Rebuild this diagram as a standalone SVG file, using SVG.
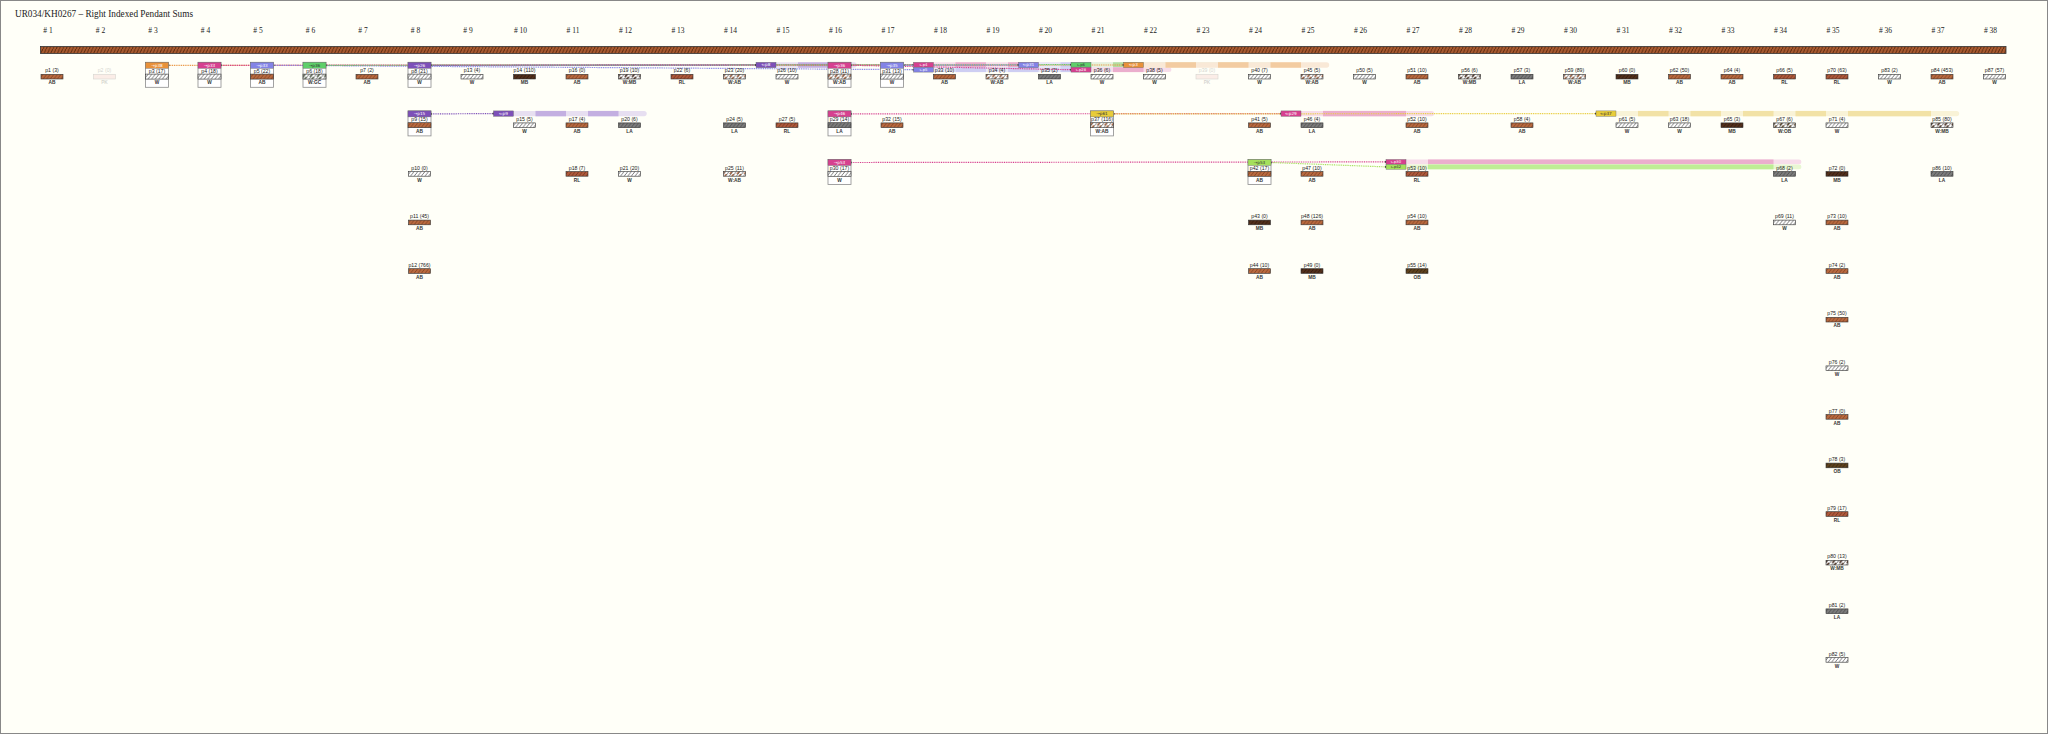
<svg xmlns="http://www.w3.org/2000/svg" width="2048" height="734" viewBox="0 0 2048 734">
<style>
.ti{font-family:"Liberation Serif",serif;font-size:10.5px;fill:#222}
.cl{font-family:"Liberation Serif",serif;font-size:7.5px;fill:#222;text-anchor:middle}
.lb{font-family:"Liberation Sans",sans-serif;font-size:5.2px;fill:#222;text-anchor:middle}
.cc{font-family:"Liberation Sans",sans-serif;font-size:4.8px;font-weight:bold;fill:#333;text-anchor:middle}
.bar{stroke:#333;stroke-width:0.6}
.box{fill:#fff;stroke:#8c8c8c;stroke-width:0.8}
.hd{stroke:#666;stroke-width:0.4}
.ht{font-family:"DejaVu Sans",sans-serif;font-size:4.2px;fill:#fff;text-anchor:middle}
.ht.dk{fill:#333}
.ts{font-size:3.8px}
.cn path{fill:none;stroke-width:1.2;stroke-dasharray:1 0.8}
.bd{opacity:0.85}
.faded{opacity:0.2}
</style>
<defs>
<pattern id="pCord" width="3.3" height="7" patternUnits="userSpaceOnUse"><rect width="3.3" height="7" fill="#a85a30"/><path d="M0,7L3.3,0" stroke="#5a2a10" stroke-width="0.9"/></pattern>
<pattern id="pAB" width="3.6" height="4.8" patternUnits="userSpaceOnUse"><rect width="3.6" height="4.8" fill="#b86a40"/><path d="M0,4.8L3.6,0" stroke="#7a3a1c" stroke-width="0.8"/></pattern>
<pattern id="pRL" width="3.6" height="4.8" patternUnits="userSpaceOnUse"><rect width="3.6" height="4.8" fill="#ae5a3c"/><path d="M0,4.8L3.6,0" stroke="#6e2c18" stroke-width="0.8"/></pattern>
<pattern id="pMB" width="3.6" height="4.8" patternUnits="userSpaceOnUse"><rect width="3.6" height="4.8" fill="#52301c"/><path d="M0,4.8L3.6,0" stroke="#2b140a" stroke-width="0.8"/></pattern>
<pattern id="pOB" width="3.6" height="4.8" patternUnits="userSpaceOnUse"><rect width="3.6" height="4.8" fill="#5e421e"/><path d="M0,4.8L3.6,0" stroke="#2e1e0c" stroke-width="0.8"/></pattern>
<pattern id="pLA" width="3.6" height="4.8" patternUnits="userSpaceOnUse"><rect width="3.6" height="4.8" fill="#7c7c7c"/><path d="M0,4.8L3.6,0" stroke="#464646" stroke-width="0.8"/></pattern>
<pattern id="pW" width="3.6" height="4.8" patternUnits="userSpaceOnUse"><rect width="3.6" height="4.8" fill="#fff"/><path d="M0,4.8L3.6,0" stroke="#333" stroke-width="0.7"/></pattern>
<pattern id="pPK" width="3.6" height="4.8" patternUnits="userSpaceOnUse"><rect width="3.6" height="4.8" fill="#f0a8a8"/></pattern>
<pattern id="pWAB" width="7.2" height="4.8" patternUnits="userSpaceOnUse"><rect width="7.2" height="4.8" fill="#fff"/><polygon points="1.8,4.8 5.4,0 7.2,0 3.6,4.8" fill="#b86a40"/><path d="M0,4.8L3.6,0M3.6,4.8L7.2,0" stroke="#333" stroke-width="0.7"/></pattern>
<pattern id="pWMB" width="7.2" height="4.8" patternUnits="userSpaceOnUse"><rect width="7.2" height="4.8" fill="#fff"/><polygon points="1.8,4.8 5.4,0 7.2,0 3.6,4.8" fill="#52301c"/><path d="M0,4.8L3.6,0M3.6,4.8L7.2,0" stroke="#333" stroke-width="0.7"/></pattern>
<pattern id="pWOB" width="7.2" height="4.8" patternUnits="userSpaceOnUse"><rect width="7.2" height="4.8" fill="#fff"/><polygon points="1.8,4.8 5.4,0 7.2,0 3.6,4.8" fill="#5e421e"/><path d="M0,4.8L3.6,0M3.6,4.8L7.2,0" stroke="#333" stroke-width="0.7"/></pattern>
<pattern id="pWGC" width="7.2" height="4.8" patternUnits="userSpaceOnUse"><rect width="7.2" height="4.8" fill="#fff"/><polygon points="1.8,4.8 5.4,0 7.2,0 3.6,4.8" fill="#6c7a60"/><path d="M0,4.8L3.6,0M3.6,4.8L7.2,0" stroke="#333" stroke-width="0.7"/></pattern>
<marker id="dot" viewBox="-2 -2 4 4" markerWidth="3" markerHeight="3" markerUnits="userSpaceOnUse"><circle r="1.4" fill="#333"/></marker>
</defs>
<rect x="0.5" y="0.5" width="2047" height="733" fill="#fffff8" stroke="#888"/>
<text class="ti" x="15" y="17" textLength="178" lengthAdjust="spacingAndGlyphs">UR034/KH0267 – Right Indexed Pendant Sums</text>
<g id="columns">
<text class="cl" x="48" y="33"># 1</text><text class="cl" x="100.5" y="33"># 2</text><text class="cl" x="153" y="33"># 3</text><text class="cl" x="205.5" y="33"># 4</text><text class="cl" x="258" y="33"># 5</text><text class="cl" x="310.5" y="33"># 6</text><text class="cl" x="363" y="33"># 7</text><text class="cl" x="415.5" y="33"># 8</text><text class="cl" x="468" y="33"># 9</text><text class="cl" x="520.5" y="33"># 10</text><text class="cl" x="573" y="33"># 11</text><text class="cl" x="625.5" y="33"># 12</text><text class="cl" x="678" y="33"># 13</text><text class="cl" x="730.5" y="33"># 14</text><text class="cl" x="783" y="33"># 15</text><text class="cl" x="835.5" y="33"># 16</text><text class="cl" x="888" y="33"># 17</text><text class="cl" x="940.5" y="33"># 18</text><text class="cl" x="993" y="33"># 19</text><text class="cl" x="1045.5" y="33"># 20</text><text class="cl" x="1098" y="33"># 21</text><text class="cl" x="1150.5" y="33"># 22</text><text class="cl" x="1203" y="33"># 23</text><text class="cl" x="1255.5" y="33"># 24</text><text class="cl" x="1308" y="33"># 25</text><text class="cl" x="1360.5" y="33"># 26</text><text class="cl" x="1413" y="33"># 27</text><text class="cl" x="1465.5" y="33"># 28</text><text class="cl" x="1518" y="33"># 29</text><text class="cl" x="1570.5" y="33"># 30</text><text class="cl" x="1623" y="33"># 31</text><text class="cl" x="1675.5" y="33"># 32</text><text class="cl" x="1728" y="33"># 33</text><text class="cl" x="1780.5" y="33"># 34</text><text class="cl" x="1833" y="33"># 35</text><text class="cl" x="1885.5" y="33"># 36</text><text class="cl" x="1938" y="33"># 37</text><text class="cl" x="1990.5" y="33"># 38</text>
</g>
<g id="main-cord"><rect x="40.5" y="46.5" width="1965.5" height="7" fill="url(#pCord)" stroke="#333" stroke-width="0.8"/></g>

<g id="bands" class="bd">
<g id="band-p8"><path d="M776,62.3H854A2.7,2.7 0 0 1 854,67.7H776Z" fill="#e3daf0"/><rect x="798" y="62.3" width="30.5" height="5.4" fill="#b9a2de"/></g>
<g id="band-p4"><path d="M933.5,62.3H1064A2.4,2.4 0 0 1 1064,67.1H933.5Z" fill="#f6d8e8"/><rect x="955.5" y="62.3" width="30.5" height="4.8" fill="#e8a0c6"/><rect x="1008" y="62.3" width="30.5" height="4.8" fill="#e8a0c6"/></g>
<g id="band-p5"><path d="M933.5,67.3H1116.5A2.4,2.4 0 0 1 1116.5,72.1H933.5Z" fill="#e4e4f8"/><rect x="955.5" y="67.3" width="30.5" height="4.8" fill="#c6c6f2"/><rect x="1008" y="67.3" width="30.5" height="4.8" fill="#c6c6f2"/><rect x="1060.5" y="67.3" width="30.5" height="4.8" fill="#c6c6f2"/></g>
<g id="band-p31"><path d="M1038.5,62.3H1169A2.7,2.7 0 0 1 1169,67.7H1038.5Z" fill="#e4e4f8"/><rect x="1060.5" y="62.3" width="30.5" height="5.4" fill="#c6c6f2"/><rect x="1113" y="62.3" width="30.5" height="5.4" fill="#c6c6f2"/></g>
<g id="band-p6"><path d="M1091,62.3H1274A2.4,2.4 0 0 1 1274,67.1H1091Z" fill="#e2f0d8"/><rect x="1113" y="62.3" width="30.5" height="4.8" fill="#a8d890"/><rect x="1165.5" y="62.3" width="30.5" height="4.8" fill="#a8d890"/><rect x="1218" y="62.3" width="30.5" height="4.8" fill="#a8d890"/></g>
<g id="band-p28"><path d="M1091,67.3H1169A2.4,2.4 0 0 1 1169,72.1H1091Z" fill="#f6d8e8"/><rect x="1113" y="67.3" width="30.5" height="4.8" fill="#e8a0c6"/></g>
<g id="band-p3"><path d="M1143.5,62.3H1326.5A2.7,2.7 0 0 1 1326.5,67.7H1143.5Z" fill="#f9e6d2"/><rect x="1165.5" y="62.3" width="30.5" height="5.4" fill="#f2c492"/><rect x="1218" y="62.3" width="30.5" height="5.4" fill="#f2c492"/><rect x="1270.5" y="62.3" width="30.5" height="5.4" fill="#f2c492"/></g>
<g id="band-p9"><path d="M513.5,110.9H644A2.7,2.7 0 0 1 644,116.3H513.5Z" fill="#e3daf0"/><rect x="535.5" y="110.9" width="30.5" height="5.4" fill="#b9a2de"/><rect x="588" y="110.9" width="30.5" height="5.4" fill="#b9a2de"/></g>
<g id="band-p29"><path d="M1301,110.9H1431.5A2.7,2.7 0 0 1 1431.5,116.3H1301Z" fill="#f6d8e8"/><rect x="1323" y="110.9" width="83" height="5.4" fill="#e8a0c6"/></g>
<g id="band-p37"><path d="M1616,110.9H1956.5A2.7,2.7 0 0 1 1956.5,116.3H1616Z" fill="#f9f1d2"/><rect x="1638" y="110.9" width="30.5" height="5.4" fill="#f0de98"/><rect x="1690.5" y="110.9" width="30.5" height="5.4" fill="#f0de98"/><rect x="1743" y="110.9" width="30.5" height="5.4" fill="#f0de98"/><rect x="1795.5" y="110.9" width="30.5" height="5.4" fill="#f0de98"/><rect x="1848" y="110.9" width="83" height="5.4" fill="#f0de98"/></g>
<g id="band-p30"><path d="M1406,159.5H1799A2.4,2.4 0 0 1 1799,164.3H1406Z" fill="#f6d8e8"/><rect x="1428" y="159.5" width="345.5" height="4.8" fill="#e8a0c6"/></g>
<g id="band-p42"><path d="M1406,164.5H1799A2.4,2.4 0 0 1 1799,169.3H1406Z" fill="#e4f6cc"/><rect x="1428" y="164.5" width="345.5" height="4.8" fill="#b4ea84"/></g>
</g>

<g id="connectors" class="cn">
<path d="M168.5,65.3L1123.5,65" stroke="#e8913a" marker-start="url(#dot)" marker-end="url(#dot)"/>
<path d="M221,65.3L913.5,64.7" stroke="#d6408f" marker-start="url(#dot)" marker-end="url(#dot)"/>
<path d="M273.5,65.3L913.5,69.7" stroke="#8383e6" marker-start="url(#dot)" marker-end="url(#dot)"/>
<path d="M326,65.3L1071,64.7" stroke="#5fcf6a" marker-start="url(#dot)" marker-end="url(#dot)"/>
<path d="M431,65.3L756,65" stroke="#7d50b8" marker-start="url(#dot)" marker-end="url(#dot)"/>
<path d="M851,65.3L1071,69.7" stroke="#d6408f" marker-start="url(#dot)" marker-end="url(#dot)"/>
<path d="M903.5,65.3L1018.5,65" stroke="#8383e6" marker-start="url(#dot)" marker-end="url(#dot)"/>
<path d="M431,113.9L493.5,113.6" stroke="#7d50b8" marker-start="url(#dot)" marker-end="url(#dot)"/>
<path d="M851,113.9L1281,113.6" stroke="#d6408f" marker-start="url(#dot)" marker-end="url(#dot)"/>
<path d="M1113.5,113.9L1596,113.6" stroke="#e8cc3a" marker-start="url(#dot)" marker-end="url(#dot)"/>
<path d="M851,162.5L1386,161.9" stroke="#d6408f" marker-start="url(#dot)" marker-end="url(#dot)"/>
<path d="M1271,162.5L1386,166.9" stroke="#a4e05c" marker-start="url(#dot)" marker-end="url(#dot)"/>
</g>

<g id="tags">
<g id="tag-p8"><rect class="hd" x="756" y="62.3" width="20" height="5.4" fill="#7d50b8"/><text class="ht" x="766" y="66.4">⇐p8</text></g>
<g id="tag-p4"><rect class="hd" x="913.5" y="62.3" width="20" height="4.8" fill="#d6408f"/><text class="ht ts" x="923.5" y="65.9">⇐p4</text></g>
<g id="tag-p5"><rect class="hd" x="913.5" y="67.3" width="20" height="4.8" fill="#8383e6"/><text class="ht ts" x="923.5" y="70.9">⇐p5</text></g>
<g id="tag-p31"><rect class="hd" x="1018.5" y="62.3" width="20" height="5.4" fill="#8383e6"/><text class="ht" x="1028.5" y="66.4">⇐p31</text></g>
<g id="tag-p6"><rect class="hd" x="1071" y="62.3" width="20" height="4.8" fill="#5fcf6a"/><text class="ht ts dk" x="1081" y="65.9">⇐p6</text></g>
<g id="tag-p28"><rect class="hd" x="1071" y="67.3" width="20" height="4.8" fill="#d6408f"/><text class="ht ts" x="1081" y="70.9">⇐p28</text></g>
<g id="tag-p3"><rect class="hd" x="1123.5" y="62.3" width="20" height="5.4" fill="#e8913a"/><text class="ht" x="1133.5" y="66.4">⇐p3</text></g>
<g id="tag-p9"><rect class="hd" x="493.5" y="110.9" width="20" height="5.4" fill="#7d50b8"/><text class="ht" x="503.5" y="115">⇐p9</text></g>
<g id="tag-p29"><rect class="hd" x="1281" y="110.9" width="20" height="5.4" fill="#d6408f"/><text class="ht" x="1291" y="115">⇐p29</text></g>
<g id="tag-p37"><rect class="hd" x="1596" y="110.9" width="20" height="5.4" fill="#e8cc3a"/><text class="ht dk" x="1606" y="115">⇐p37</text></g>
<g id="tag-p30"><rect class="hd" x="1386" y="159.5" width="20" height="4.8" fill="#d6408f"/><text class="ht ts" x="1396" y="163.1">⇐p30</text></g>
<g id="tag-p42"><rect class="hd" x="1386" y="164.5" width="20" height="4.8" fill="#a4e05c"/><text class="ht ts dk" x="1396" y="168.1">⇐p42</text></g>
</g>

<g id="pendants">
<!-- row 1 -->
<g id="p1" transform="translate(52,62.3)"><text class="lb" y="10.2">p1 (3)</text><rect class="bar" x="-11" y="12" width="22" height="4.7" fill="url(#pAB)"/><text class="cc" y="22">AB</text></g>
<g id="p2" class="faded" transform="translate(104.5,62.3)"><text class="lb" y="10.2">p2 (0)</text><rect class="bar" x="-11" y="12" width="22" height="4.7" fill="url(#pPK)"/><text class="cc" y="22">PK</text></g>
<g id="p3" transform="translate(157,62.3)"><rect class="box" x="-11.5" width="23" height="25"/><rect class="hd" x="-11.5" width="23" height="6" fill="#e8913a"/><text class="ht" y="4.6">→p38</text><text class="lb" y="10.4">p3 (17)</text><rect class="bar" x="-11.5" y="11.8" width="23" height="5" fill="url(#pW)"/><text class="cc" y="22">W</text></g>
<g id="p4" transform="translate(209.5,62.3)"><rect class="box" x="-11.5" width="23" height="25"/><rect class="hd" x="-11.5" width="23" height="6" fill="#d6408f"/><text class="ht" y="4.6">→p33</text><text class="lb" y="10.4">p4 (18)</text><rect class="bar" x="-11.5" y="11.8" width="23" height="5" fill="url(#pW)"/><text class="cc" y="22">W</text></g>
<g id="p5" transform="translate(262,62.3)"><rect class="box" x="-11.5" width="23" height="25"/><rect class="hd" x="-11.5" width="23" height="6" fill="#8383e6"/><text class="ht" y="4.6">→p33</text><text class="lb" y="10.4">p5 (22)</text><rect class="bar" x="-11.5" y="11.8" width="23" height="5" fill="url(#pAB)"/><text class="cc" y="22">AB</text></g>
<g id="p6" transform="translate(314.5,62.3)"><rect class="box" x="-11.5" width="23" height="25"/><rect class="hd" x="-11.5" width="23" height="6" fill="#5fcf6a"/><text class="ht dk" y="4.6">→p36</text><text class="lb" y="10.4">p6 (18)</text><rect class="bar" x="-11.5" y="11.8" width="23" height="5" fill="url(#pWGC)"/><text class="cc" y="22">W:GC</text></g>
<g id="p7" transform="translate(367,62.3)"><text class="lb" y="10.2">p7 (2)</text><rect class="bar" x="-11" y="12" width="22" height="4.7" fill="url(#pAB)"/><text class="cc" y="22">AB</text></g>
<g id="p8" transform="translate(419.5,62.3)"><rect class="box" x="-11.5" width="23" height="25"/><rect class="hd" x="-11.5" width="23" height="6" fill="#7d50b8"/><text class="ht" y="4.6">→p26</text><text class="lb" y="10.4">p8 (21)</text><rect class="bar" x="-11.5" y="11.8" width="23" height="5" fill="url(#pW)"/><text class="cc" y="22">W</text></g>
<g id="p13" transform="translate(472,62.3)"><text class="lb" y="10.2">p13 (4)</text><rect class="bar" x="-11" y="12" width="22" height="4.7" fill="url(#pW)"/><text class="cc" y="22">W</text></g>
<g id="p14" transform="translate(524.5,62.3)"><text class="lb" y="10.2">p14 (110)</text><rect class="bar" x="-11" y="12" width="22" height="4.7" fill="url(#pMB)"/><text class="cc" y="22">MB</text></g>
<g id="p16" transform="translate(577,62.3)"><text class="lb" y="10.2">p16 (0)</text><rect class="bar" x="-11" y="12" width="22" height="4.7" fill="url(#pAB)"/><text class="cc" y="22">AB</text></g>
<g id="p19" transform="translate(629.5,62.3)"><text class="lb" y="10.2">p19 (10)</text><rect class="bar" x="-11" y="12" width="22" height="4.7" fill="url(#pWMB)"/><text class="cc" y="22">W:MB</text></g>
<g id="p22" transform="translate(682,62.3)"><text class="lb" y="10.2">p22 (6)</text><rect class="bar" x="-11" y="12" width="22" height="4.7" fill="url(#pRL)"/><text class="cc" y="22">RL</text></g>
<g id="p23" transform="translate(734.5,62.3)"><text class="lb" y="10.2">p23 (20)</text><rect class="bar" x="-11" y="12" width="22" height="4.7" fill="url(#pWAB)"/><text class="cc" y="22">W:AB</text></g>
<g id="p26" transform="translate(787,62.3)"><text class="lb" y="10.2">p26 (10)</text><rect class="bar" x="-11" y="12" width="22" height="4.7" fill="url(#pW)"/><text class="cc" y="22">W</text></g>
<g id="p28" transform="translate(839.5,62.3)"><rect class="box" x="-11.5" width="23" height="25"/><rect class="hd" x="-11.5" width="23" height="6" fill="#d6408f"/><text class="ht" y="4.6">→p36</text><text class="lb" y="10.4">p28 (11)</text><rect class="bar" x="-11.5" y="11.8" width="23" height="5" fill="url(#pWAB)"/><text class="cc" y="22">W:AB</text></g>
<g id="p31" transform="translate(892,62.3)"><rect class="box" x="-11.5" width="23" height="25"/><rect class="hd" x="-11.5" width="23" height="6" fill="#8383e6"/><text class="ht" y="4.6">→p35</text><text class="lb" y="10.4">p31 (13)</text><rect class="bar" x="-11.5" y="11.8" width="23" height="5" fill="url(#pW)"/><text class="cc" y="22">W</text></g>
<g id="p33" transform="translate(944.5,62.3)"><text class="lb" y="10.2">p33 (10)</text><rect class="bar" x="-11" y="12" width="22" height="4.7" fill="url(#pAB)"/><text class="cc" y="22">AB</text></g>
<g id="p34" transform="translate(997,62.3)"><text class="lb" y="10.2">p34 (4)</text><rect class="bar" x="-11" y="12" width="22" height="4.7" fill="url(#pWAB)"/><text class="cc" y="22">W:AB</text></g>
<g id="p35" transform="translate(1049.5,62.3)"><text class="lb" y="10.2">p35 (2)</text><rect class="bar" x="-11" y="12" width="22" height="4.7" fill="url(#pLA)"/><text class="cc" y="22">LA</text></g>
<g id="p36" transform="translate(1102,62.3)"><text class="lb" y="10.2">p36 (6)</text><rect class="bar" x="-11" y="12" width="22" height="4.7" fill="url(#pW)"/><text class="cc" y="22">W</text></g>
<g id="p38" transform="translate(1154.5,62.3)"><text class="lb" y="10.2">p38 (5)</text><rect class="bar" x="-11" y="12" width="22" height="4.7" fill="url(#pW)"/><text class="cc" y="22">W</text></g>
<g id="p39" class="faded" transform="translate(1207,62.3)"><text class="lb" y="10.2">p39 (0)</text><rect class="bar" x="-11" y="12" width="22" height="4.7" fill="url(#pPK)"/><text class="cc" y="22">PK</text></g>
<g id="p40" transform="translate(1259.5,62.3)"><text class="lb" y="10.2">p40 (7)</text><rect class="bar" x="-11" y="12" width="22" height="4.7" fill="url(#pW)"/><text class="cc" y="22">W</text></g>
<g id="p45" transform="translate(1312,62.3)"><text class="lb" y="10.2">p45 (5)</text><rect class="bar" x="-11" y="12" width="22" height="4.7" fill="url(#pWAB)"/><text class="cc" y="22">W:AB</text></g>
<g id="p50" transform="translate(1364.5,62.3)"><text class="lb" y="10.2">p50 (5)</text><rect class="bar" x="-11" y="12" width="22" height="4.7" fill="url(#pW)"/><text class="cc" y="22">W</text></g>
<g id="p51" transform="translate(1417,62.3)"><text class="lb" y="10.2">p51 (10)</text><rect class="bar" x="-11" y="12" width="22" height="4.7" fill="url(#pAB)"/><text class="cc" y="22">AB</text></g>
<g id="p56" transform="translate(1469.5,62.3)"><text class="lb" y="10.2">p56 (6)</text><rect class="bar" x="-11" y="12" width="22" height="4.7" fill="url(#pWMB)"/><text class="cc" y="22">W:MB</text></g>
<g id="p57" transform="translate(1522,62.3)"><text class="lb" y="10.2">p57 (3)</text><rect class="bar" x="-11" y="12" width="22" height="4.7" fill="url(#pLA)"/><text class="cc" y="22">LA</text></g>
<g id="p59" transform="translate(1574.5,62.3)"><text class="lb" y="10.2">p59 (89)</text><rect class="bar" x="-11" y="12" width="22" height="4.7" fill="url(#pWAB)"/><text class="cc" y="22">W:AB</text></g>
<g id="p60" transform="translate(1627,62.3)"><text class="lb" y="10.2">p60 (0)</text><rect class="bar" x="-11" y="12" width="22" height="4.7" fill="url(#pMB)"/><text class="cc" y="22">MB</text></g>
<g id="p62" transform="translate(1679.5,62.3)"><text class="lb" y="10.2">p62 (50)</text><rect class="bar" x="-11" y="12" width="22" height="4.7" fill="url(#pAB)"/><text class="cc" y="22">AB</text></g>
<g id="p64" transform="translate(1732,62.3)"><text class="lb" y="10.2">p64 (4)</text><rect class="bar" x="-11" y="12" width="22" height="4.7" fill="url(#pAB)"/><text class="cc" y="22">AB</text></g>
<g id="p66" transform="translate(1784.5,62.3)"><text class="lb" y="10.2">p66 (5)</text><rect class="bar" x="-11" y="12" width="22" height="4.7" fill="url(#pRL)"/><text class="cc" y="22">RL</text></g>
<g id="p70" transform="translate(1837,62.3)"><text class="lb" y="10.2">p70 (63)</text><rect class="bar" x="-11" y="12" width="22" height="4.7" fill="url(#pRL)"/><text class="cc" y="22">RL</text></g>
<g id="p83" transform="translate(1889.5,62.3)"><text class="lb" y="10.2">p83 (2)</text><rect class="bar" x="-11" y="12" width="22" height="4.7" fill="url(#pW)"/><text class="cc" y="22">W</text></g>
<g id="p84" transform="translate(1942,62.3)"><text class="lb" y="10.2">p84 (453)</text><rect class="bar" x="-11" y="12" width="22" height="4.7" fill="url(#pAB)"/><text class="cc" y="22">AB</text></g>
<g id="p87" transform="translate(1994.5,62.3)"><text class="lb" y="10.2">p87 (57)</text><rect class="bar" x="-11" y="12" width="22" height="4.7" fill="url(#pW)"/><text class="cc" y="22">W</text></g>
<!-- row 2 -->
<g id="p9" transform="translate(419.5,110.9)"><rect class="box" x="-11.5" width="23" height="25"/><rect class="hd" x="-11.5" width="23" height="6" fill="#7d50b8"/><text class="ht" y="4.6">→p15</text><text class="lb" y="10.4">p9 (15)</text><rect class="bar" x="-11.5" y="11.8" width="23" height="5" fill="url(#pAB)"/><text class="cc" y="22">AB</text></g>
<g id="p15" transform="translate(524.5,110.9)"><text class="lb" y="10.2">p15 (5)</text><rect class="bar" x="-11" y="12" width="22" height="4.7" fill="url(#pW)"/><text class="cc" y="22">W</text></g>
<g id="p17" transform="translate(577,110.9)"><text class="lb" y="10.2">p17 (4)</text><rect class="bar" x="-11" y="12" width="22" height="4.7" fill="url(#pAB)"/><text class="cc" y="22">AB</text></g>
<g id="p20" transform="translate(629.5,110.9)"><text class="lb" y="10.2">p20 (6)</text><rect class="bar" x="-11" y="12" width="22" height="4.7" fill="url(#pLA)"/><text class="cc" y="22">LA</text></g>
<g id="p24" transform="translate(734.5,110.9)"><text class="lb" y="10.2">p24 (5)</text><rect class="bar" x="-11" y="12" width="22" height="4.7" fill="url(#pLA)"/><text class="cc" y="22">LA</text></g>
<g id="p27" transform="translate(787,110.9)"><text class="lb" y="10.2">p27 (5)</text><rect class="bar" x="-11" y="12" width="22" height="4.7" fill="url(#pRL)"/><text class="cc" y="22">RL</text></g>
<g id="p29" transform="translate(839.5,110.9)"><rect class="box" x="-11.5" width="23" height="25"/><rect class="hd" x="-11.5" width="23" height="6" fill="#d6408f"/><text class="ht" y="4.6">→p46</text><text class="lb" y="10.4">p29 (14)</text><rect class="bar" x="-11.5" y="11.8" width="23" height="5" fill="url(#pLA)"/><text class="cc" y="22">LA</text></g>
<g id="p32" transform="translate(892,110.9)"><text class="lb" y="10.2">p32 (15)</text><rect class="bar" x="-11" y="12" width="22" height="4.7" fill="url(#pAB)"/><text class="cc" y="22">AB</text></g>
<g id="p37" transform="translate(1102,110.9)"><rect class="box" x="-11.5" width="23" height="25"/><rect class="hd" x="-11.5" width="23" height="6" fill="#e8cc3a"/><text class="ht dk" y="4.6">→p61</text><text class="lb" y="10.4">p37 (116)</text><rect class="bar" x="-11.5" y="11.8" width="23" height="5" fill="url(#pWAB)"/><text class="cc" y="22">W:AB</text></g>
<g id="p41" transform="translate(1259.5,110.9)"><text class="lb" y="10.2">p41 (5)</text><rect class="bar" x="-11" y="12" width="22" height="4.7" fill="url(#pAB)"/><text class="cc" y="22">AB</text></g>
<g id="p46" transform="translate(1312,110.9)"><text class="lb" y="10.2">p46 (4)</text><rect class="bar" x="-11" y="12" width="22" height="4.7" fill="url(#pLA)"/><text class="cc" y="22">LA</text></g>
<g id="p52" transform="translate(1417,110.9)"><text class="lb" y="10.2">p52 (10)</text><rect class="bar" x="-11" y="12" width="22" height="4.7" fill="url(#pAB)"/><text class="cc" y="22">AB</text></g>
<g id="p58" transform="translate(1522,110.9)"><text class="lb" y="10.2">p58 (4)</text><rect class="bar" x="-11" y="12" width="22" height="4.7" fill="url(#pAB)"/><text class="cc" y="22">AB</text></g>
<g id="p61" transform="translate(1627,110.9)"><text class="lb" y="10.2">p61 (5)</text><rect class="bar" x="-11" y="12" width="22" height="4.7" fill="url(#pW)"/><text class="cc" y="22">W</text></g>
<g id="p63" transform="translate(1679.5,110.9)"><text class="lb" y="10.2">p63 (18)</text><rect class="bar" x="-11" y="12" width="22" height="4.7" fill="url(#pW)"/><text class="cc" y="22">W</text></g>
<g id="p65" transform="translate(1732,110.9)"><text class="lb" y="10.2">p65 (3)</text><rect class="bar" x="-11" y="12" width="22" height="4.7" fill="url(#pMB)"/><text class="cc" y="22">MB</text></g>
<g id="p67" transform="translate(1784.5,110.9)"><text class="lb" y="10.2">p67 (6)</text><rect class="bar" x="-11" y="12" width="22" height="4.7" fill="url(#pWOB)"/><text class="cc" y="22">W:OB</text></g>
<g id="p71" transform="translate(1837,110.9)"><text class="lb" y="10.2">p71 (4)</text><rect class="bar" x="-11" y="12" width="22" height="4.7" fill="url(#pW)"/><text class="cc" y="22">W</text></g>
<g id="p85" transform="translate(1942,110.9)"><text class="lb" y="10.2">p85 (80)</text><rect class="bar" x="-11" y="12" width="22" height="4.7" fill="url(#pWMB)"/><text class="cc" y="22">W:MB</text></g>
<!-- row 3 -->
<g id="p10" transform="translate(419.5,159.5)"><text class="lb" y="10.2">p10 (0)</text><rect class="bar" x="-11" y="12" width="22" height="4.7" fill="url(#pW)"/><text class="cc" y="22">W</text></g>
<g id="p18" transform="translate(577,159.5)"><text class="lb" y="10.2">p18 (7)</text><rect class="bar" x="-11" y="12" width="22" height="4.7" fill="url(#pRL)"/><text class="cc" y="22">RL</text></g>
<g id="p21" transform="translate(629.5,159.5)"><text class="lb" y="10.2">p21 (20)</text><rect class="bar" x="-11" y="12" width="22" height="4.7" fill="url(#pW)"/><text class="cc" y="22">W</text></g>
<g id="p25" transform="translate(734.5,159.5)"><text class="lb" y="10.2">p25 (11)</text><rect class="bar" x="-11" y="12" width="22" height="4.7" fill="url(#pWAB)"/><text class="cc" y="22">W:AB</text></g>
<g id="p30" transform="translate(839.5,159.5)"><rect class="box" x="-11.5" width="23" height="25"/><rect class="hd" x="-11.5" width="23" height="6" fill="#d6408f"/><text class="ht" y="4.6">→p53</text><text class="lb" y="10.4">p30 (17)</text><rect class="bar" x="-11.5" y="11.8" width="23" height="5" fill="url(#pW)"/><text class="cc" y="22">W</text></g>
<g id="p42" transform="translate(1259.5,159.5)"><rect class="box" x="-11.5" width="23" height="25"/><rect class="hd" x="-11.5" width="23" height="6" fill="#a4e05c"/><text class="ht dk" y="4.6">→p53</text><text class="lb" y="10.4">p42 (17)</text><rect class="bar" x="-11.5" y="11.8" width="23" height="5" fill="url(#pAB)"/><text class="cc" y="22">AB</text></g>
<g id="p47" transform="translate(1312,159.5)"><text class="lb" y="10.2">p47 (10)</text><rect class="bar" x="-11" y="12" width="22" height="4.7" fill="url(#pAB)"/><text class="cc" y="22">AB</text></g>
<g id="p53" transform="translate(1417,159.5)"><text class="lb" y="10.2">p53 (10)</text><rect class="bar" x="-11" y="12" width="22" height="4.7" fill="url(#pRL)"/><text class="cc" y="22">RL</text></g>
<g id="p68" transform="translate(1784.5,159.5)"><text class="lb" y="10.2">p68 (2)</text><rect class="bar" x="-11" y="12" width="22" height="4.7" fill="url(#pLA)"/><text class="cc" y="22">LA</text></g>
<g id="p72" transform="translate(1837,159.5)"><text class="lb" y="10.2">p72 (0)</text><rect class="bar" x="-11" y="12" width="22" height="4.7" fill="url(#pMB)"/><text class="cc" y="22">MB</text></g>
<g id="p86" transform="translate(1942,159.5)"><text class="lb" y="10.2">p86 (10)</text><rect class="bar" x="-11" y="12" width="22" height="4.7" fill="url(#pLA)"/><text class="cc" y="22">LA</text></g>
<!-- row 4 -->
<g id="p11" transform="translate(419.5,208.1)"><text class="lb" y="10.2">p11 (45)</text><rect class="bar" x="-11" y="12" width="22" height="4.7" fill="url(#pAB)"/><text class="cc" y="22">AB</text></g>
<g id="p43" transform="translate(1259.5,208.1)"><text class="lb" y="10.2">p43 (0)</text><rect class="bar" x="-11" y="12" width="22" height="4.7" fill="url(#pMB)"/><text class="cc" y="22">MB</text></g>
<g id="p48" transform="translate(1312,208.1)"><text class="lb" y="10.2">p48 (126)</text><rect class="bar" x="-11" y="12" width="22" height="4.7" fill="url(#pAB)"/><text class="cc" y="22">AB</text></g>
<g id="p54" transform="translate(1417,208.1)"><text class="lb" y="10.2">p54 (10)</text><rect class="bar" x="-11" y="12" width="22" height="4.7" fill="url(#pAB)"/><text class="cc" y="22">AB</text></g>
<g id="p69" transform="translate(1784.5,208.1)"><text class="lb" y="10.2">p69 (11)</text><rect class="bar" x="-11" y="12" width="22" height="4.7" fill="url(#pW)"/><text class="cc" y="22">W</text></g>
<g id="p73" transform="translate(1837,208.1)"><text class="lb" y="10.2">p73 (10)</text><rect class="bar" x="-11" y="12" width="22" height="4.7" fill="url(#pAB)"/><text class="cc" y="22">AB</text></g>
<!-- row 5 -->
<g id="p12" transform="translate(419.5,256.7)"><text class="lb" y="10.2">p12 (766)</text><rect class="bar" x="-11" y="12" width="22" height="4.7" fill="url(#pAB)"/><text class="cc" y="22">AB</text></g>
<g id="p44" transform="translate(1259.5,256.7)"><text class="lb" y="10.2">p44 (10)</text><rect class="bar" x="-11" y="12" width="22" height="4.7" fill="url(#pAB)"/><text class="cc" y="22">AB</text></g>
<g id="p49" transform="translate(1312,256.7)"><text class="lb" y="10.2">p49 (0)</text><rect class="bar" x="-11" y="12" width="22" height="4.7" fill="url(#pMB)"/><text class="cc" y="22">MB</text></g>
<g id="p55" transform="translate(1417,256.7)"><text class="lb" y="10.2">p55 (14)</text><rect class="bar" x="-11" y="12" width="22" height="4.7" fill="url(#pOB)"/><text class="cc" y="22">OB</text></g>
<g id="p74" transform="translate(1837,256.7)"><text class="lb" y="10.2">p74 (2)</text><rect class="bar" x="-11" y="12" width="22" height="4.7" fill="url(#pAB)"/><text class="cc" y="22">AB</text></g>
<!-- column 35 continued -->
<g id="p75" transform="translate(1837,305.3)"><text class="lb" y="10.2">p75 (50)</text><rect class="bar" x="-11" y="12" width="22" height="4.7" fill="url(#pAB)"/><text class="cc" y="22">AB</text></g>
<g id="p76" transform="translate(1837,353.9)"><text class="lb" y="10.2">p76 (2)</text><rect class="bar" x="-11" y="12" width="22" height="4.7" fill="url(#pW)"/><text class="cc" y="22">W</text></g>
<g id="p77" transform="translate(1837,402.5)"><text class="lb" y="10.2">p77 (0)</text><rect class="bar" x="-11" y="12" width="22" height="4.7" fill="url(#pAB)"/><text class="cc" y="22">AB</text></g>
<g id="p78" transform="translate(1837,451.1)"><text class="lb" y="10.2">p78 (3)</text><rect class="bar" x="-11" y="12" width="22" height="4.7" fill="url(#pOB)"/><text class="cc" y="22">OB</text></g>
<g id="p79" transform="translate(1837,499.7)"><text class="lb" y="10.2">p79 (17)</text><rect class="bar" x="-11" y="12" width="22" height="4.7" fill="url(#pRL)"/><text class="cc" y="22">RL</text></g>
<g id="p80" transform="translate(1837,548.3)"><text class="lb" y="10.2">p80 (13)</text><rect class="bar" x="-11" y="12" width="22" height="4.7" fill="url(#pWMB)"/><text class="cc" y="22">W:MB</text></g>
<g id="p81" transform="translate(1837,596.9)"><text class="lb" y="10.2">p81 (2)</text><rect class="bar" x="-11" y="12" width="22" height="4.7" fill="url(#pLA)"/><text class="cc" y="22">LA</text></g>
<g id="p82" transform="translate(1837,645.5)"><text class="lb" y="10.2">p82 (5)</text><rect class="bar" x="-11" y="12" width="22" height="4.7" fill="url(#pW)"/><text class="cc" y="22">W</text></g>
</g>
</svg>
